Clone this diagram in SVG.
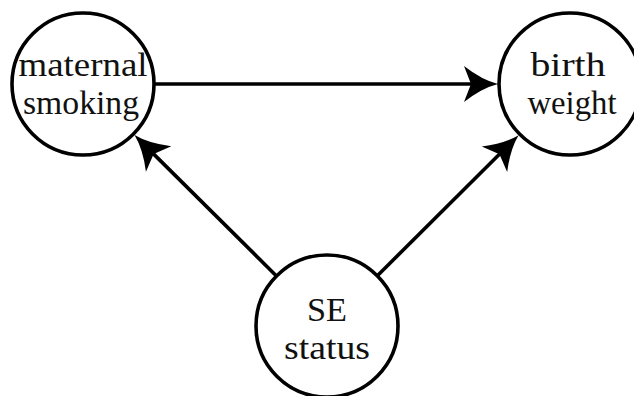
<svg xmlns="http://www.w3.org/2000/svg" width="634" height="396" viewBox="0 0 634 396">
<style>
.node{fill:#fff;stroke:#000;stroke-width:3.6}
.lbl{font-family:"Liberation Serif","Times New Roman",serif;font-size:33px;fill:#111;text-anchor:middle}
.edge{stroke:#000;stroke-width:3.6;fill:none}
</style>
<defs>
<marker id="arr" markerUnits="userSpaceOnUse" viewBox="-56 -20 60 40" refX="-20" refY="0" markerWidth="60" markerHeight="40" orient="auto">
<path d="M0,0 Q-16,-4 -34,-18 L-27,0 L-34,18 Q-16,4 0,0 Z" fill="#000"/>
</marker>
</defs>
<rect width="634" height="396" fill="#fff"/>
<g id="edges">
<path class="edge" d="M155,84 L478,84" marker-end="url(#arr)"/>
<path class="edge" d="M276.2,275.7 L148.7,149.1" marker-end="url(#arr)"/>
<path class="edge" d="M377.6,275.5 L504.4,149.3" marker-end="url(#arr)"/>
</g>
<g id="maternal-smoking">
<circle class="node" cx="83" cy="84" r="71"/>
<text class="lbl" x="83" y="76" textLength="129" lengthAdjust="spacingAndGlyphs">maternal</text>
<text class="lbl" x="81" y="114" textLength="116" lengthAdjust="spacingAndGlyphs">smoking</text>
</g>
<g id="birth-weight">
<circle class="node" cx="570" cy="84" r="71"/>
<text class="lbl" x="568" y="76" textLength="75" lengthAdjust="spacingAndGlyphs">birth</text>
<text class="lbl" x="572" y="114" textLength="89" lengthAdjust="spacingAndGlyphs">weight</text>
</g>
<g id="se-status">
<circle class="node" cx="327" cy="326" r="71"/>
<text class="lbl" x="327" y="321" textLength="40" lengthAdjust="spacingAndGlyphs">SE</text>
<text class="lbl" x="327" y="359" textLength="86" lengthAdjust="spacingAndGlyphs">status</text>
</g>
</svg>
